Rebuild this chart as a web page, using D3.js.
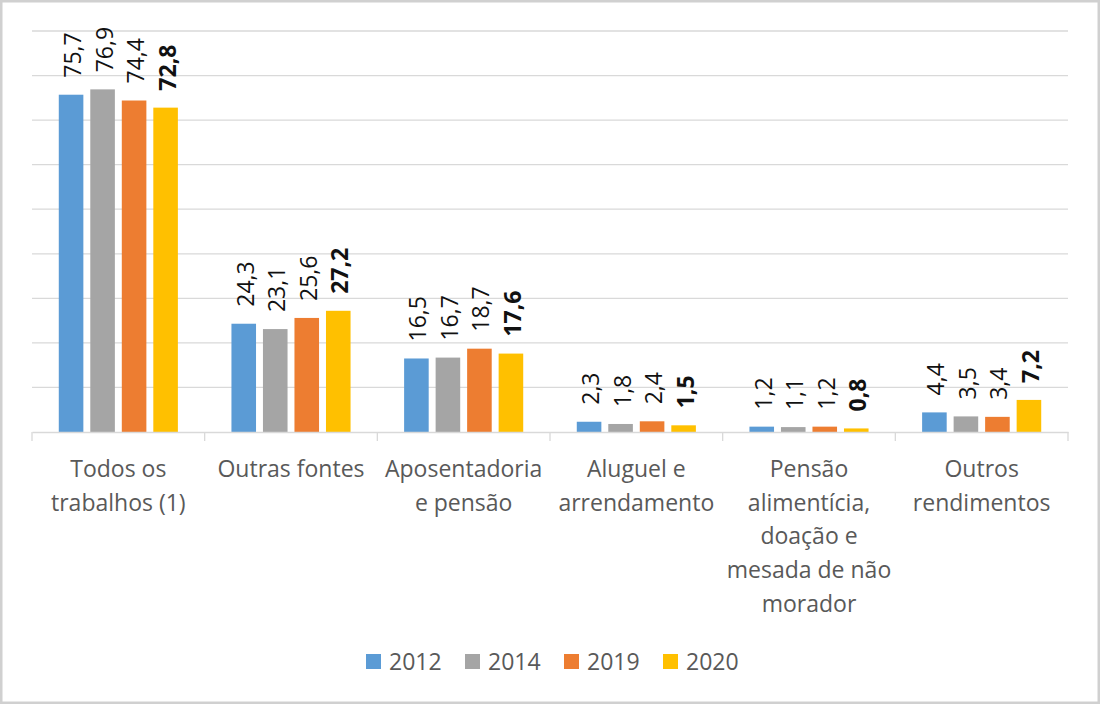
<!DOCTYPE html>
<html>
<head>
<meta charset="utf-8">
<script src="https://cdn.jsdelivr.net/npm/d3@7"></script>
<style>
  body { margin: 0; background: #fff; }
  svg { display: block; }
</style>
</head>
<body>
<svg id="chart" width="1100" height="704"></svg>
<script>
// data
var categories = [
  ["Todos os", "trabalhos (1)"],
  ["Outras fontes"],
  ["Aposentadoria", "e pensão"],
  ["Aluguel e", "arrendamento"],
  ["Pensão", "alimentícia,", "doação e", "mesada de não", "morador"],
  ["Outros", "rendimentos"]
];
var years = ["2012", "2014", "2019", "2020"];
var v2012 = [75.7, 24.3, 16.5, 2.3, 1.2, 4.4];
var v2014 = [76.9, 23.1, 16.7, 1.8, 1.1, 3.5];
var v2019 = [74.4, 25.6, 18.7, 2.4, 1.2, 3.4];
var v2020 = [72.8, 27.2, 17.6, 1.5, 0.8, 7.2];
var yTicks = [0, 10, 20, 30, 40, 50, 60, 70, 80, 90];
var colors = ["#5B9BD5", "#A5A5A5", "#ED7D31", "#FFC000"];

var series = [v2012, v2014, v2019, v2020];
var fmt = function(v) { return d3.format(".1f")(v).replace(".", ","); };

var svg = d3.select("#chart");
var W = 1100, H = 704;
var plotLeft = 32, plotRight = 1068, plotTop = 31, base = 432;
var font = "'Open Sans', sans-serif";

// frame
svg.append("rect")
  .attr("x", 1).attr("y", 1)
  .attr("width", W - 2).attr("height", H - 2)
  .attr("fill", "#fff")
  .attr("stroke", "#d0d0d0")
  .attr("stroke-width", 3);

var idx = d3.range(categories.length);
var x0 = d3.scaleBand().domain(idx).range([plotLeft, plotRight]).padding(0);
var x1 = d3.scaleBand().domain(years).range([0, x0.bandwidth()])
  .paddingInner(0.22).paddingOuter(0.85);
var y = d3.scaleLinear().domain([0, 90]).range([base, plotTop]);

// gridlines
svg.append("g").selectAll("line").data(yTicks.slice(1)).enter().append("line")
  .attr("x1", plotLeft).attr("x2", plotRight)
  .attr("y1", function(d) { return y(d); })
  .attr("y2", function(d) { return y(d); })
  .attr("stroke", "#d9d9d9")
  .attr("stroke-width", 1.3);

// bars
var groups = svg.append("g").selectAll("g").data(idx).enter().append("g")
  .attr("transform", function(i) { return "translate(" + x0(i) + ",0)"; });

var rows = function(i) {
  return years.map(function(yr, k) { return {k: k, yr: yr, v: series[k][i]}; });
};

groups.selectAll("rect").data(rows).enter().append("rect")
  .attr("x", function(d) { return x1(d.yr); })
  .attr("y", function(d) { return y(d.v); })
  .attr("width", x1.bandwidth())
  .attr("height", function(d) { return base - y(d.v); })
  .attr("fill", function(d) { return colors[d.k]; });

// value labels, rotated
groups.selectAll("text").data(rows).enter().append("text")
  .attr("transform", function(d) {
    return "translate(" + (x1(d.yr) + x1.bandwidth() / 2 + 1) + "," + (y(d.v) - 17) + ") rotate(-90)";
  })
  .attr("dominant-baseline", "central")
  .attr("font-family", font)
  .attr("font-size", 23)
  .attr("font-weight", function(d) { return d.k === 3 ? "bold" : "normal"; })
  .attr("fill", "#111")
  .text(function(d) { return fmt(d.v); });

// x axis baseline and ticks
var xAxis = d3.axisBottom(x0).tickSize(0).tickFormat("");
svg.append("g").attr("transform", "translate(0," + base + ")").call(xAxis)
  .select(".domain").attr("stroke", "#d9d9d9").attr("stroke-width", 1.3);
var tickXs = idx.map(function(i) { return x0(i); }).concat([plotRight]);
svg.append("g").selectAll("line").data(tickXs).enter().append("line")
  .attr("x1", function(d) { return d; }).attr("x2", function(d) { return d; })
  .attr("y1", base).attr("y2", base + 9)
  .attr("stroke", "#d9d9d9").attr("stroke-width", 1.3);

// category labels
var catText = svg.append("g").selectAll("text").data(idx).enter().append("text")
  .attr("x", function(i) { return x0(i) + x0.bandwidth() / 2; })
  .attr("y", 468)
  .attr("text-anchor", "middle")
  .attr("dominant-baseline", "central")
  .attr("font-family", font)
  .attr("font-size", 23)
  .attr("fill", "#595959");
catText.selectAll("tspan").data(function(i) { return categories[i]; }).enter().append("tspan")
  .attr("x", function() { var i = d3.select(this.parentNode).datum(); return x0(i) + x0.bandwidth() / 2; })
  .attr("dy", function(d, j) { return j === 0 ? 0 : 33.7; })
  .text(function(d) { return d; });

// legend
var legend = svg.append("g").selectAll("g").data(years).enter().append("g")
  .attr("transform", function(d, k) { return "translate(" + (366 + k * 99) + ",661)"; });
legend.append("rect")
  .attr("x", 0).attr("y", -7).attr("width", 15).attr("height", 15)
  .attr("fill", function(d, k) { return colors[k]; });
legend.append("text")
  .attr("x", 23).attr("y", 0)
  .attr("dominant-baseline", "central")
  .attr("font-family", font)
  .attr("font-size", 23)
  .attr("fill", "#595959")
  .text(function(d) { return d; });
</script>
</body>
</html>
